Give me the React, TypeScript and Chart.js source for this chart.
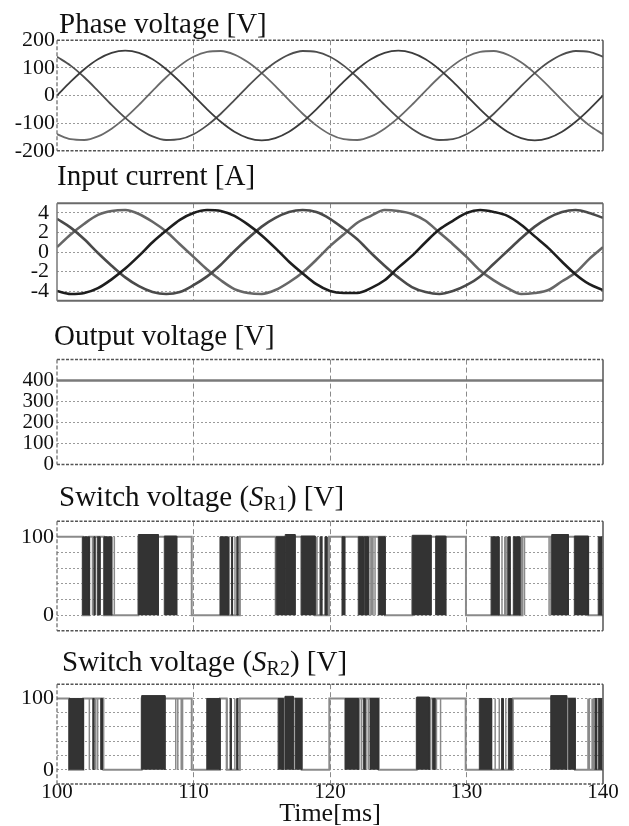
import React, { useEffect, useRef } from "react";
import { Chart, registerables } from "chart.js";

Chart.register(...registerables);

const SERIF = '"Liberation Serif", "Times New Roman", serif';
const PAGE_W = 629;
const PAGE_H = 826;
const PLOT_LEFT = 57;
const PLOT_RIGHT = 603;

// Time base for the sampled waveforms (ms)
const timeMs = [
  100, 101, 102, 103, 104, 105, 106, 107, 108, 109,
  110, 111, 112, 113, 114, 115, 116, 117, 118, 119,
  120, 121, 122, 123, 124, 125, 126, 127, 128, 129,
  130, 131, 132, 133, 134, 135, 136, 137, 138, 139, 140,
];
const timeTicks = [100, 110, 120, 130, 140];

// Phase voltages [V]
const phaseVa = [
  0, 50, 95, 131, 154, 162, 154, 131, 95, 50,
  0, -50, -95, -131, -154, -162, -154, -131, -95, -50,
  0, 50, 95, 131, 154, 162, 154, 131, 95, 50,
  0, -50, -95, -131, -154, -162, -154, -131, -95, -50, 0,
];
const phaseVb = [
  -140, -158, -161, -148, -120, -81, -34, 17, 66, 108,
  140, 158, 161, 148, 120, 81, 34, -17, -66, -108,
  -140, -158, -161, -148, -120, -81, -34, 17, 66, 108,
  140, 158, 161, 148, 120, 81, 34, -17, -66, -108, -140,
];
const phaseVc = [
  140, 108, 66, 17, -34, -81, -120, -148, -161, -158,
  -140, -108, -66, -17, 34, 81, 120, 148, 161, 158,
  140, 108, 66, 17, -34, -81, -120, -148, -161, -158,
  -140, -108, -66, -17, 34, 81, 120, 148, 161, 158, 140,
];
const phaseTicks = [-200, -100, 0, 100, 200];

// Input currents [A]
const currentIa = [
  0.5, 1.8, 2.9, 3.8, 4.2, 4.3, 3.9, 3.1, 2.1, 0.8,
  -0.5, -1.8, -2.9, -3.8, -4.2, -4.3, -3.9, -3.1, -2.1, -0.8,
  0.6, 1.8, 3.0, 3.7, 4.3, 4.2, 3.9, 3.2, 2.0, 0.8,
  -0.5, -1.9, -2.9, -3.7, -4.3, -4.2, -3.9, -3.0, -2.1, -0.7, 0.5,
];
const currentIb = [
  -4.0, -4.3, -4.2, -3.7, -2.8, -1.7, -0.4, 1.0, 2.2, 3.3,
  4.0, 4.3, 4.2, 3.7, 2.8, 1.7, 0.4, -1.0, -2.2, -3.3,
  -4.0, -4.2, -4.2, -3.7, -2.9, -1.6, -0.4, 1.0, 2.3, 3.2,
  4.0, 4.3, 4.1, 3.7, 2.8, 1.6, 0.4, -1.0, -2.3, -3.3, -3.9,
];
const currentIc = [
  3.4, 2.5, 1.3, -0.1, -1.4, -2.6, -3.5, -4.1, -4.3, -4.1,
  -3.4, -2.5, -1.3, 0.1, 1.4, 2.6, 3.5, 4.1, 4.3, 4.1,
  3.4, 2.4, 1.3, -0.1, -1.4, -2.6, -3.6, -4.1, -4.3, -4.0,
  -3.4, -2.5, -1.2, 0.1, 1.4, 2.6, 3.5, 4.1, 4.3, 4.0, 3.5,
];
const currentTicks = [-4, -2, 0, 2, 4];

// Output voltage [V]
const outputTime = [100, 140];
const outputVoltage = [400, 400];
const outputTicks = [0, 100, 200, 300, 400];

// Switch voltages: slow level [time, level], PWM bursts [start, end, top], single pulses (time)
const switchTicks = [0, 20, 40, 60, 80, 100];
const switchLabels = [0, 100];

const sr1Level = [
  [100, 100], [101.88, 0], [102.37, 100], [103.44, 0], [105.96, 100],
  [109.87, 0], [113.4, 100], [118.9, 0], [119.93, 100], [124.03, 0],
  [126.03, 100], [129.96, 0], [134.1, 100], [138.92, 0], [140, 0],
];
const sr1Bursts = [
  [101.88, 102.37, 100], [102.7, 102.78, 100], [102.95, 103.15, 100],
  [103.44, 104.01, 100], [105.96, 107.42, 103], [107.86, 108.77, 101],
  [111.94, 112.55, 100], [112.78, 112.86, 100], [113.17, 113.25, 100],
  [116.05, 116.7, 100], [116.72, 117.44, 103], [117.88, 118.9, 101],
  [119.27, 119.4, 100], [119.63, 119.78, 100], [120.88, 121.08, 100],
  [122.07, 122.44, 100], [122.5, 122.8, 100], [123.54, 124.03, 100],
  [126.03, 127.4, 102], [127.74, 128.48, 101], [131.8, 132.38, 100],
  [133.02, 133.19, 100], [133.43, 133.92, 100], [136.24, 137.46, 103],
  [137.9, 138.92, 101], [139.65, 139.9, 100],
];
const sr1Pulses = [
  102.6, 104.2, 112.62, 113.04, 116.0, 118.95, 119.05, 122.93, 123.05,
  123.15, 123.3, 132.6, 132.8, 132.9, 134.05, 134.25, 136.05, 136.18,
];

const sr2Level = [
  [100, 100], [100.88, 0], [101.93, 100], [103.4, 0], [106.2, 100],
  [109.87, 0], [111.94, 100], [112.43, 0], [113.4, 100], [117.93, 0],
  [119.95, 100], [123.58, 0], [126.35, 100], [129.94, 0], [133.4, 100],
  [137.95, 0], [140, 0],
];
const sr2Bursts = [
  [100.88, 101.93, 100], [102.62, 102.7, 100], [103.2, 103.32, 100],
  [106.2, 107.91, 104], [110.97, 111.94, 100], [112.68, 112.76, 100],
  [113.16, 113.24, 100], [116.2, 116.57, 100], [116.7, 117.3, 103],
  [117.44, 117.93, 100], [121.1, 122.07, 100], [122.44, 122.56, 100],
  [122.93, 123.54, 100], [126.35, 127.27, 102], [127.52, 127.69, 100],
  [130.94, 131.84, 100], [132.57, 132.69, 100], [133.07, 133.31, 100],
  [136.17, 137.34, 104], [137.46, 137.95, 100], [139.41, 139.53, 100],
  [139.65, 139.9, 100],
];
const sr2Pulses = [
  102.37, 102.84, 102.98, 108.7, 108.85, 109.1, 109.2, 112.46, 113.03,
  116.62, 122.15, 122.3, 122.64, 122.8, 127.38, 127.8, 128.1, 132.1,
  132.4, 132.88, 138.9, 139.0, 139.2, 139.3,
];

// Frame around each plot area, side by side
const framePlugin = {
  id: "frame",
  afterDatasetsDraw(chart: any, _args: any, opts: any) {
    const { ctx, chartArea: a } = chart;
    const sides: [string, number, number, number, number][] = [
      ["top", a.left, a.top, a.right, a.top],
      ["bottom", a.left, a.bottom, a.right, a.bottom],
      ["left", a.left, a.top, a.left, a.bottom],
      ["right", a.right, a.top, a.right, a.bottom],
    ];
    ctx.save();
    for (const [k, x1, y1, x2, y2] of sides) {
      const s = opts[k];
      if (!s) continue;
      ctx.beginPath();
      ctx.strokeStyle = s.color;
      ctx.lineWidth = s.width;
      ctx.setLineDash(s.dash || []);
      ctx.moveTo(x1, y1);
      ctx.lineTo(x2, y2);
      ctx.stroke();
    }
    ctx.restore();
  },
};

const dashedFrame = {
  top: { color: "#555", width: 1.5, dash: [3, 1.5] },
  bottom: { color: "#555", width: 1.5, dash: [3, 1.5] },
  left: { color: "#666", width: 1.2, dash: [4, 2] },
  right: { color: "#555", width: 1.5, dash: [] },
};
const solidFrame = {
  top: { color: "#6a6a6a", width: 2, dash: [] },
  bottom: { color: "#6a6a6a", width: 2, dash: [] },
  left: { color: "#777", width: 1.5, dash: [] },
  right: { color: "#666", width: 1.5, dash: [] },
};

const CLEAR = "rgba(0,0,0,0)";

function xScale(showLabels: boolean) {
  return {
    type: "linear",
    min: 100,
    max: 140,
    afterBuildTicks: (s: any) => {
      s.ticks = timeTicks.map((v) => ({ value: v }));
    },
    afterFit: (s: any) => {
      s.height = showLabels ? 46 : 0;
    },
    grid: {
      drawTicks: false,
      lineWidth: 1,
      color: (c: any) =>
        c.tick && (c.tick.value === 100 || c.tick.value === 140) ? CLEAR : "#8a8a8a",
    },
    border: { display: false, dash: [5, 3] },
    ticks: {
      display: showLabels,
      autoSkip: false,
      maxRotation: 0,
      padding: -2,
      color: "#111",
      font: { family: SERIF, size: 21, lineHeight: 1 },
    },
    title: {
      display: showLabels,
      text: "Time[ms]",
      color: "#111",
      padding: { top: 0, bottom: 0 },
      font: { family: SERIF, size: 26 },
    },
  };
}

function yScale(min: number, max: number, ticks: number[], labelled: number[] | null, size: number, pad: number) {
  return {
    type: "linear",
    min,
    max,
    afterBuildTicks: (s: any) => {
      s.ticks = ticks.map((v) => ({ value: v }));
    },
    afterFit: (s: any) => {
      s.width = PLOT_LEFT;
    },
    grid: {
      drawTicks: false,
      lineWidth: 1,
      color: (c: any) =>
        c.tick && (c.tick.value === min || c.tick.value === max) ? CLEAR : "#9a9a9a",
    },
    border: { display: false, dash: [2, 2] },
    ticks: {
      autoSkip: false,
      padding: pad,
      color: "#111",
      font: { family: SERIF, size },
      callback: (v: any) => (labelled && !labelled.includes(v) ? "" : String(v)),
    },
  };
}

function baseOptions(y: any, showX: boolean, frame: any) {
  return {
    responsive: false,
    animation: false,
    events: [],
    layout: {
      padding: { left: 0, right: PAGE_W - PLOT_RIGHT, top: 14, bottom: showX ? 0 : 14 },
    },
    plugins: {
      legend: { display: false },
      tooltip: { enabled: false },
      frame,
    },
    elements: { point: { radius: 0 }, line: { borderCapStyle: "butt" } },
    scales: { x: xScale(showX), y },
  };
}

function sampled(values: number[], color: string, width: number) {
  return {
    data: timeMs.map((t, i) => ({ x: t, y: values[i] })),
    borderColor: color,
    borderWidth: width,
    cubicInterpolationMode: "monotone",
    fill: false,
    pointRadius: 0,
  };
}

function switchDatasets(levels: number[][], bursts: number[][], pulses: number[]) {
  const burstPts = bursts.flatMap(([s, e, top]) => [
    { x: s, y: 0 },
    { x: s, y: top },
    { x: e, y: top },
    { x: e, y: 0 },
    { x: e, y: null },
  ]);
  const pulsePts = pulses.flatMap((t) => [
    { x: t, y: 0 },
    { x: t, y: 100 },
    { x: t, y: null },
  ]);
  const tracePts = levels.flatMap(([t, v], i) =>
    i === 0 ? [{ x: t, y: v }] : [{ x: t, y: levels[i - 1][1] }, { x: t, y: v }]
  );
  return [
    {
      data: burstPts,
      borderColor: "#333",
      backgroundColor: "#333",
      borderWidth: 1,
      fill: "origin",
      spanGaps: false,
      pointRadius: 0,
    },
    {
      data: pulsePts,
      borderColor: "#8a8a8a",
      borderWidth: 1.5,
      fill: false,
      spanGaps: false,
      pointRadius: 0,
    },
    {
      data: tracePts,
      borderColor: "#8a8a8a",
      borderWidth: 2,
      fill: false,
      pointRadius: 0,
    },
  ];
}

const panels = [
  {
    top: 25,
    height: 141,
    config: () => ({
      type: "line",
      data: {
        datasets: [
          sampled(phaseVa, "#3c3c3c", 1.8),
          sampled(phaseVc, "#4e4e4e", 1.8),
          sampled(phaseVb, "#6a6a6a", 1.8),
        ],
      },
      options: baseOptions(yScale(-200, 200, phaseTicks, null, 22, 2), false, dashedFrame),
      plugins: [framePlugin],
    }),
  },
  {
    top: 182,
    height: 140,
    config: () => ({
      type: "line",
      data: {
        datasets: [
          sampled(currentIb, "#1e1e1e", 2.6),
          sampled(currentIc, "#4a4a4a", 2.6),
          sampled(currentIa, "#666", 2.6),
        ],
      },
      options: baseOptions(yScale(-5, 5, currentTicks, null, 22, 8), false, solidFrame),
      plugins: [framePlugin],
    }),
  },
  {
    top: 344,
    height: 136,
    config: () => ({
      type: "line",
      data: {
        datasets: [
          {
            data: outputTime.map((t, i) => ({ x: t, y: outputVoltage[i] })),
            borderColor: "#7a7a7a",
            borderWidth: 2.5,
            fill: false,
            pointRadius: 0,
          },
        ],
      },
      options: baseOptions(yScale(0, 500, outputTicks, null, 21, 3), false, dashedFrame),
      plugins: [framePlugin],
    }),
  },
  {
    top: 505,
    height: 142,
    config: () => ({
      type: "line",
      data: { datasets: switchDatasets(sr1Level, sr1Bursts, sr1Pulses) },
      options: baseOptions(yScale(-20, 120, switchTicks, switchLabels, 22, 3), false, dashedFrame),
      plugins: [framePlugin],
    }),
  },
  {
    top: 668,
    height: 162,
    config: () => ({
      type: "line",
      data: { datasets: switchDatasets(sr2Level, sr2Bursts, sr2Pulses) },
      options: baseOptions(yScale(-20, 120, switchTicks, switchLabels, 22, 3), true, dashedFrame),
      plugins: [framePlugin],
    }),
  },
];

function PanelCanvas({ top, height, config }: { top: number; height: number; config: () => any }) {
  const ref = useRef<HTMLCanvasElement>(null);
  useEffect(() => {
    const chart = new Chart(ref.current as HTMLCanvasElement, config());
    return () => chart.destroy();
  }, []);
  return (
    <canvas
      ref={ref}
      width={PAGE_W}
      height={height}
      style={{ position: "absolute", left: 0, top, width: PAGE_W, height }}
    />
  );
}

const titleBase: React.CSSProperties = {
  position: "absolute",
  fontFamily: SERIF,
  fontSize: 29,
  lineHeight: "29px",
  color: "#111",
  whiteSpace: "nowrap",
};

const sub: React.CSSProperties = {
  fontSize: 20,
  position: "relative",
  top: 4,
};

export default function App() {
  return (
    <div
      style={{
        position: "absolute",
        left: 0,
        top: 0,
        width: PAGE_W,
        height: PAGE_H,
        overflow: "hidden",
        background: "#fff",
      }}
    >
      {panels.map((p, i) => (
        <PanelCanvas key={i} top={p.top} height={p.height} config={p.config} />
      ))}
      <div style={{ ...titleBase, top: 9, left: 59 }}>Phase voltage [V]</div>
      <div style={{ ...titleBase, top: 161, left: 57 }}>Input current [A]</div>
      <div style={{ ...titleBase, top: 321, left: 54 }}>Output voltage [V]</div>
      <div style={{ ...titleBase, top: 482, left: 59 }}>
        Switch voltage (<i>S</i>
        <span style={sub}>R1</span>) [V]
      </div>
      <div style={{ ...titleBase, top: 647, left: 62 }}>
        Switch voltage (<i>S</i>
        <span style={sub}>R2</span>) [V]
      </div>
    </div>
  );
}
